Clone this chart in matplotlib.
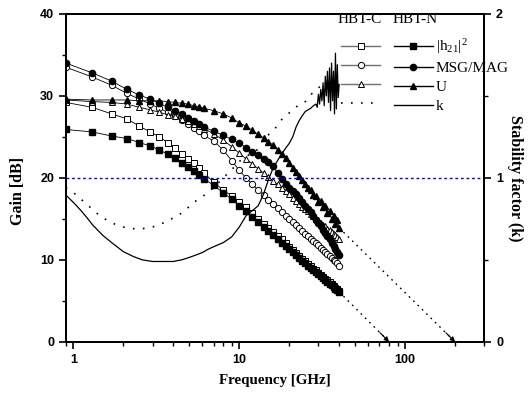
import matplotlib
matplotlib.use('Agg')
import matplotlib.pyplot as plt
from matplotlib.lines import Line2D
from matplotlib.ticker import FixedLocator, NullFormatter
import numpy as np

# --- data
FREQ = [0.9, 1.3, 1.7, 2.1, 2.5, 2.9, 3.3, 3.7, 4.1, 4.5, 4.9, 5.3, 5.7, 6.1,
        7, 8, 9, 10, 11, 12, 13, 14, 15, 16, 17, 18, 19, 20,
        21, 22, 23, 24, 25, 26, 27, 28, 29, 30,
        31, 32, 33, 34, 35, 36, 37, 38, 39, 40]

# HBT-C (open markers)
C_H21 = [29.2, 28.6, 27.8, 27.2, 26.3, 25.6, 25.0, 24.3, 23.6, 22.9, 22.3, 21.8, 21.2, 20.6,
         19.5, 18.5, 17.8, 17.1, 16.4, 15.7, 15.0, 14.4, 13.9, 13.4, 12.9, 12.5, 12.0, 11.6,
         11.2, 10.8, 10.5, 10.1, 9.8, 9.5, 9.2, 8.9, 8.7, 8.4,
         8.2, 7.9, 7.7, 7.5, 7.3, 7.0, 6.8, 6.6, 6.4, 6.2]
C_MSG = [33.5, 32.3, 31.3, 30.3, 29.6, 29.0, 28.5, 28.0, 27.5, 27.0, 26.6, 26.1, 25.7, 25.2,
         24.5, 23.4, 22.1, 20.9, 20.0, 19.2, 18.5, 17.9, 17.3, 16.8, 16.3, 15.8, 15.4, 15.0,
         14.6, 14.2, 13.9, 13.5, 13.2, 12.9, 12.6, 12.3, 12.0, 11.8,
         11.5, 11.2, 11.0, 10.7, 10.5, 10.2, 10.0, 9.8, 9.6, 9.3]
C_U = [29.5, 29.3, 29.2, 29.0, 28.6, 28.3, 28.0, 27.7, 27.5, 27.2, 26.9, 26.6, 26.3, 26.0,
       25.4, 24.6, 23.8, 23.0, 22.3, 21.7, 21.1, 20.6, 20.1, 19.6, 19.2, 18.8, 18.4, 18.0,
       17.6, 17.2, 16.8, 16.5, 16.2, 15.9, 15.6, 15.3, 15.0, 14.8,
       14.5, 14.3, 14.1, 13.8, 13.6, 13.4, 13.2, 13.0, 12.8, 12.6]

# HBT-N (filled markers)
N_H21 = [25.9, 25.6, 25.1, 24.8, 24.3, 23.9, 23.4, 22.9, 22.4, 21.8, 21.3, 20.8, 20.4, 19.9,
         19.1, 18.2, 17.4, 16.6, 15.9, 15.2, 14.6, 14.0, 13.5, 13.0, 12.6, 12.1, 11.7, 11.3,
         10.9, 10.6, 10.2, 9.9, 9.6, 9.3, 9.0, 8.8, 8.5, 8.3,
         8.0, 7.8, 7.6, 7.3, 7.1, 6.9, 6.7, 6.5, 6.3, 6.1]
N_MSG = [34.0, 32.8, 31.8, 30.8, 30.1, 29.6, 29.1, 28.6, 28.2, 27.8, 27.3, 26.9, 26.6, 26.2,
         25.7, 25.2, 24.7, 24.2, 23.7, 23.2, 22.8, 22.3, 21.9, 21.4, 20.6, 19.9, 19.3, 18.8,
         18.4, 18.0, 17.5, 17.0, 16.6, 16.2, 15.8, 15.3, 14.9, 14.5,
         14.1, 13.7, 13.3, 12.9, 12.5, 12.1, 11.7, 11.3, 10.9, 10.6]
N_U = [29.6, 29.5, 29.5, 29.5, 29.4, 29.4, 29.4, 29.3, 29.2, 29.1, 29.0, 28.8, 28.7, 28.5,
       28.2, 27.8, 27.3, 26.7, 26.3, 25.8, 25.3, 24.9, 24.4, 24.0, 23.4, 22.9, 22.4, 21.8,
       21.2, 20.7, 20.2, 19.7, 19.3, 18.8, 18.5, 17.9, 17.8, 17.1,
       17.2, 16.4, 16.6, 15.7, 15.9, 15.0, 15.4, 14.4, 14.8, 13.9]

# stability factor k (right axis)
K_FREQ_C = [0.9, 1.0, 1.2, 1.4, 1.6, 1.8, 2.0, 2.3, 2.6, 3.0, 3.4, 3.8, 4.2, 4.7, 5.3, 6.0,
            7.0, 8.0, 9.0, 10, 11, 13, 14, 16, 18, 21, 23.5, 25, 28, 30, 32, 34, 36, 38, 40]
C_K = [0.94, 0.91, 0.84, 0.78, 0.74, 0.715, 0.70, 0.69, 0.69, 0.70, 0.72, 0.745, 0.765, 0.80,
       0.85, 0.885, 0.94, 1.00, 1.05, 1.10, 1.13, 1.175, 1.24, 1.285, 1.355, 1.415, 1.455,
       1.465, 1.525, 1.55, 1.565, 1.55, 1.575, 1.56, 1.59]

K_FREQ_N = [0.9, 1.0, 1.1, 1.2, 1.3, 1.5, 1.7, 2.0, 2.3, 2.6, 3.0, 3.5, 4.0, 4.5, 5.0, 5.5,
            6.0, 6.5, 7.0, 8.0, 9.0, 10, 11, 12, 13, 14, 15, 16, 17, 18, 19, 20, 21, 22, 23,
            24, 25, 26, 27, 28, 29, 29.5, 30, 30.5, 31, 31.5, 32, 32.5, 33, 33.5, 34, 34.5,
            35, 35.5, 36, 36.5, 37, 37.5, 38, 38.5, 39, 39.5, 40]
N_K = [0.895, 0.85, 0.805, 0.76, 0.715, 0.65, 0.605, 0.55, 0.52, 0.50, 0.49, 0.49, 0.49,
       0.50, 0.515, 0.53, 0.545, 0.565, 0.58, 0.605, 0.64, 0.70, 0.77, 0.80, 0.83, 0.90,
       0.99, 1.06, 1.105, 1.145, 1.18, 1.21, 1.25, 1.31, 1.35, 1.38, 1.405, 1.415, 1.425,
       1.44, 1.45, 1.43, 1.51, 1.45, 1.54, 1.47, 1.58, 1.44, 1.62, 1.50, 1.65, 1.46,
       1.67, 1.41, 1.70, 1.47, 1.65, 1.39, 1.76, 1.42, 1.69, 1.49, 1.57]

FT = 80     # |h21|^2 extrapolated to 0 dB
FMAX = 200  # U extrapolated to 0 dB

SERIF = 'Liberation Serif'
SANS = 'Liberation Sans'
GREY = '#707070'

plt.rcParams['mathtext.fontset'] = 'custom'
plt.rcParams['mathtext.rm'] = SERIF
plt.rcParams['mathtext.it'] = SERIF
plt.rcParams['mathtext.default'] = 'regular'

fig = plt.figure(figsize=(5.31, 3.97), dpi=100)
ax = fig.add_axes([0.124, 0.139, 0.788, 0.826])
ax2 = ax.twinx()

lw = 0.6
MS_SQ, MS_CI, MS_TR = 3.9, 4.5, 4.0
# HBT-C
ax.plot(FREQ, C_H21, color='black', lw=lw, marker='s', ms=MS_SQ, mfc='white', mec='black', mew=0.7, zorder=3)
ax.plot(FREQ, C_MSG, color='black', lw=lw, marker='o', ms=MS_CI, mfc='white', mec='black', mew=0.7, zorder=3)
ax.plot(FREQ, C_U, color='black', lw=lw, marker='^', ms=MS_TR, mfc='white', mec='black', mew=0.7, zorder=3)
# HBT-N
ax.plot(FREQ, N_H21, color='black', lw=lw, marker='s', ms=MS_SQ, mfc='black', mec='black', zorder=4)
ax.plot(FREQ, N_MSG, color='black', lw=lw, marker='o', ms=MS_CI, mfc='black', mec='black', zorder=4)
ax.plot(FREQ, N_U, color='black', lw=lw, marker='^', ms=MS_TR, mfc='black', mec='black', zorder=4)

# extrapolations (-20 dB/dec) down to 0 dB, with arrow heads
for f_end, g_end, f0 in [(FREQ[-1], N_H21[-1], FT), (FREQ[-1], N_U[-1], FMAX)]:
    ax.plot([f_end, f0], [g_end, 0], color='black', lw=1.0, ls=(0, (1.2, 3.2)), zorder=2)
    fa = f0 * 0.88
    ga = g_end * np.log(f0 / fa) / np.log(f0 / f_end)
    ax.annotate('', xy=(f0, 0), xytext=(fa, ga),
                arrowprops=dict(arrowstyle='-|>', color='black', lw=0.8,
                                mutation_scale=7, shrinkA=0, shrinkB=0))

# k
ax2.plot(K_FREQ_C, C_K, color='black', lw=1.2, ls=(0, (1, 5)))
ax2.plot(K_FREQ_N, N_K, color='black', lw=0.9)
ax2.axhline(1.0, color='#0000ff', lw=1.0, ls=(0, (2, 2)))

ax.set_xscale('log')
ax.set_xlim(0.9, 300)
ax.set_ylim(0, 40)
ax2.set_ylim(0, 2)

ax.set_yticks([0, 10, 20, 30, 40])
ax.yaxis.set_minor_locator(FixedLocator([5, 15, 25, 35]))
ax2.set_yticks([0, 1, 2])
ax2.yaxis.set_minor_locator(FixedLocator([0.5, 1.5]))
ax.set_xticks([1, 10, 100])
ax.set_xticklabels(['1', '10', '100'])
ax.xaxis.set_minor_formatter(NullFormatter())

for a in (ax, ax2):
    for s in a.spines.values():
        s.set_linewidth(1.4)
    a.tick_params(which='major', direction='out', length=5, width=1.2)
    a.tick_params(which='minor', direction='out', length=3, width=1.0)
    for lab in a.get_xticklabels() + a.get_yticklabels():
        lab.set_fontfamily(SANS)
        lab.set_fontweight('bold')
        lab.set_fontsize(9)

ax.set_xlabel('Frequency [GHz]', fontfamily=SERIF, fontweight='bold', fontsize=10.8, labelpad=6)
ax.set_ylabel('Gain [dB]', fontfamily=SERIF, fontweight='bold', fontsize=11.5, labelpad=4)
ax.yaxis.set_label_coords(-0.095, 0.46)
ax2.set_ylabel('Stability factor (k)', fontfamily=SERIF, fontweight='bold', fontsize=11.5,
               rotation=270, labelpad=14)

# legend: two columns of handles, labels only on the right
hc = [Line2D([], [], color=GREY, lw=1, marker='s', ms=MS_SQ, mfc='white', mec='black', mew=0.7),
      Line2D([], [], color=GREY, lw=1, marker='o', ms=MS_CI, mfc='white', mec='black', mew=0.7),
      Line2D([], [], color=GREY, lw=1, marker='^', ms=MS_TR, mfc='white', mec='black', mew=0.7),
      Line2D([], [], color='black', lw=1.2, ls=(0, (1, 5)))]
hn = [Line2D([], [], color='black', lw=1, marker='s', ms=MS_SQ, mfc='black', mec='black'),
      Line2D([], [], color='black', lw=1, marker='o', ms=MS_CI, mfc='black', mec='black'),
      Line2D([], [], color='black', lw=1, marker='^', ms=MS_TR, mfc='black', mec='black'),
      Line2D([], [], color='black', lw=1)]
labels = ['', '', '', '', '|h$_{21}$|$^2$', 'MSG/MAG', 'U', 'k']
leg = ax.legend(hc + hn, labels, ncol=2, frameon=False, loc='upper left',
                bbox_to_anchor=(0.64, 0.952), borderpad=0, handlelength=2.55,
                handletextpad=0.2, columnspacing=0.7, labelspacing=0.35, numpoints=1,
                prop={'family': SERIF, 'size': 11})
leg.set_zorder(10)

ax.text(0.701, 0.982, 'HBT-C', transform=ax.transAxes, ha='center', va='center',
        fontfamily=SERIF, fontsize=11)
ax.text(0.835, 0.982, 'HBT-N', transform=ax.transAxes, ha='center', va='center',
        fontfamily=SERIF, fontsize=11)

fig.savefig('out.png', dpi=100)
